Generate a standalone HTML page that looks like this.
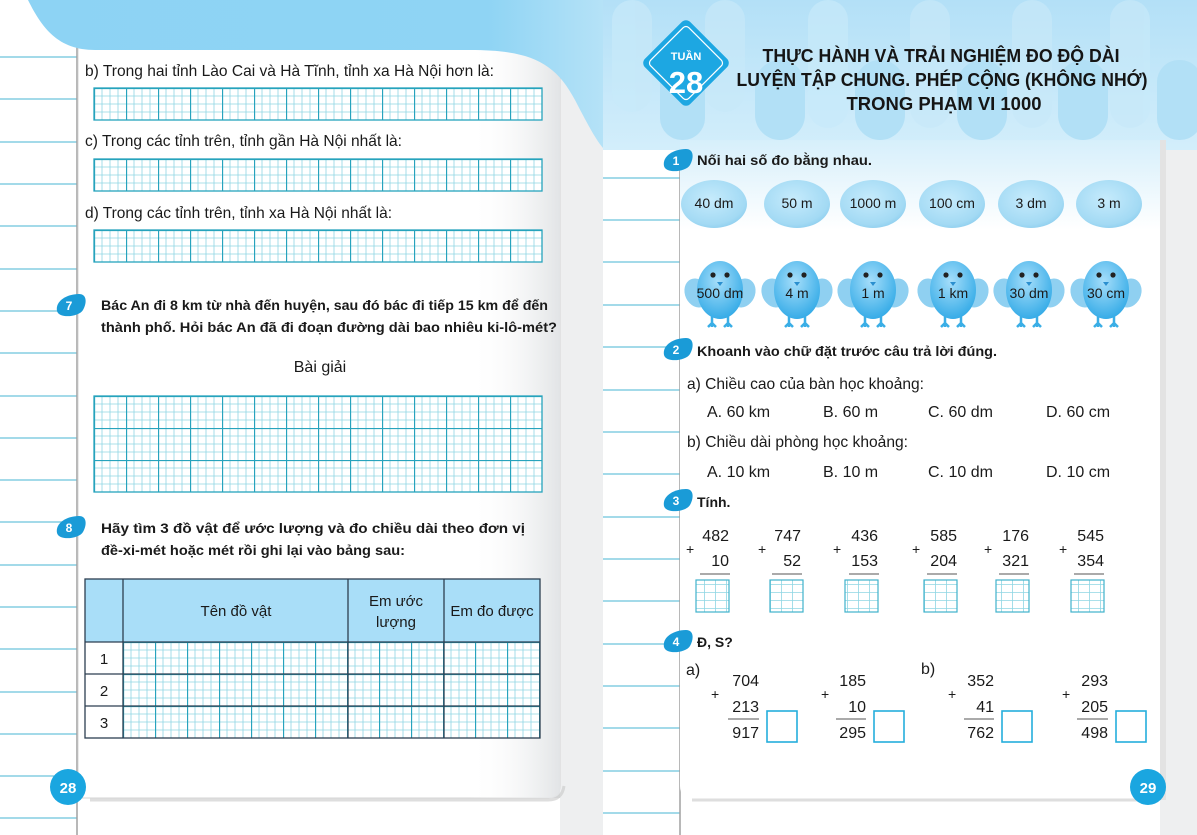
<!DOCTYPE html>
<html><head><meta charset="utf-8">
<style>
html,body{margin:0;padding:0;background:#fff;}
svg{display:block;font-family:"Liberation Sans","DejaVu Sans",sans-serif;}
</style></head><body>
<svg width="1197" height="835" viewBox="0 0 1197 835" xmlns="http://www.w3.org/2000/svg">
<defs>
<pattern id="g" width="32" height="32" patternUnits="userSpaceOnUse">
<rect width="32" height="32" fill="#fff"/>
<path d="M8 0V32M16 0V32M24 0V32M0 8H32M0 16H32M0 24H32" stroke="#8fd6e4" stroke-width="0.8"/>
<path d="M0.5 0V32M0 0.5H32" stroke="#27a3bd" stroke-width="1.3"/>
</pattern>
<pattern id="sg" width="11" height="8" patternUnits="userSpaceOnUse">
<rect width="11" height="8" fill="#fff"/>
<path d="M0.5 0V8M0 0.5H11" stroke="#8fd6e4" stroke-width="0.8"/>
</pattern>
<linearGradient id="fold" x1="0" x2="1">
<stop offset="0" stop-color="#fff" stop-opacity="0"/><stop offset="1" stop-color="#e2e4e6"/>
</linearGradient>
<linearGradient id="blob" x1="0" x2="1">
<stop offset="0" stop-color="#8dd3f4"/><stop offset="0.8" stop-color="#8fd4f4"/><stop offset="1" stop-color="#b5e2f7"/>
</linearGradient>
<linearGradient id="awn" x1="0" y1="0" x2="0" y2="1">
<stop offset="0" stop-color="#b3e0f7"/><stop offset="1" stop-color="#d3eefb"/>
</linearGradient>
<linearGradient id="below" x1="0" y1="0" x2="0" y2="1">
<stop offset="0" stop-color="#d6effb"/><stop offset="1" stop-color="#fff"/>
</linearGradient>
<radialGradient id="chick" cx="0.45" cy="0.35" r="0.7">
<stop offset="0" stop-color="#a6defa"/><stop offset="1" stop-color="#2ea8e6"/>
</radialGradient>
<radialGradient id="egg" cx="0.45" cy="0.4" r="0.65">
<stop offset="0" stop-color="#c6ebfc"/><stop offset="0.8" stop-color="#a3daf4"/><stop offset="1" stop-color="#8ccdee"/>
</radialGradient>
<g id="chk">
<ellipse cx="-23" cy="3" rx="12" ry="15" fill="#8fd0f1" transform="rotate(-25 -23 3)"/>
<ellipse cx="23" cy="3" rx="12" ry="15" fill="#8fd0f1" transform="rotate(25 23 3)"/>
<path d="M-8 24V37M8 24V37M-12 37L-8 33L-4 37M4 37L8 33L12 37" stroke="#3aaee6" stroke-width="2.5" fill="none"/>
<ellipse cx="0" cy="0" rx="23" ry="29" fill="url(#chick)"/>
<circle cx="-7" cy="-15" r="2.6" fill="#222"/><circle cx="7" cy="-15" r="2.6" fill="#222"/>
<path d="M-3 -8L3 -8L0 -4Z" fill="#2b8fcf"/>
</g>
<g id="badge"><path d="M-14 6C-16 -4 -4 -11 8 -11C16 -11 16 -2 12 5C8 12 -12 14 -14 6Z" fill="#1a9bd7"/></g>
</defs>

<rect width="1197" height="835" fill="#fff"/>
<rect x="560" y="0" width="43" height="835" fill="#eeeff0"/>
<rect x="1160" y="0" width="37" height="835" fill="#eeeff0"/>
<g stroke="#6cc3dc" stroke-width="1.3">
<path d="M0 57H77M0 99H77M0 142H77M0 184H77M0 226H77M0 269H77M0 311H77M0 353H77M0 396H77M0 438H77M0 480H77M0 522H77M0 565H77M0 607H77M0 649H77M0 692H77M0 734H77M0 776H77M0 818H77"/>
<path d="M603 178H680M603 220H680M603 262H680M603 305H680M603 347H680M603 390H680M603 432H680M603 474H680M603 517H680M603 559H680M603 601H680M603 644H680M603 686H680M603 728H680M603 771H680M603 813H680"/>
</g>
<path d="M77 0V835M680 0V835" stroke="#a0a0a0" stroke-width="1.5"/>

<path d="M78 40H548Q560 40 560 52V786Q560 798 548 798H78Z" fill="#fff" stroke="#d6d6d6" stroke-width="1"/>
<rect x="470" y="40" width="90" height="758" fill="url(#fold)"/>
<path d="M90 800H548Q562 800 564 786" stroke="#c8c8c8" stroke-width="3" fill="none" opacity="0.6"/>
<path d="M28 0C42 28 58 50 95 50L470 50C530 50 555 62 575 100C588 125 596 140 603 148L603 0Z" fill="url(#blob)"/>

<rect x="603" y="0" width="594" height="150" fill="url(#awn)"/>
<g fill="#c8e9f9" opacity="0.7">
<rect x="612" y="0" width="40" height="112" rx="20"/><rect x="705" y="0" width="40" height="112" rx="20"/><rect x="808" y="0" width="40" height="128" rx="20"/><rect x="910" y="0" width="40" height="128" rx="20"/><rect x="1012" y="0" width="40" height="128" rx="20"/><rect x="1110" y="0" width="40" height="128" rx="20"/>
</g>
<g fill="#b2e0f6">
<rect x="660" y="60" width="45" height="80" rx="22"/><rect x="755" y="60" width="50" height="80" rx="25"/><rect x="855" y="60" width="50" height="80" rx="25"/><rect x="957" y="60" width="50" height="80" rx="25"/><rect x="1058" y="60" width="50" height="80" rx="25"/><rect x="1157" y="60" width="45" height="80" rx="22"/>
</g>
<path d="M680 140H1160V786Q1160 798 1148 798H692Q680 798 680 786Z" fill="#fff"/>
<rect x="680" y="140" width="480" height="90" fill="url(#below)"/>
<path d="M692 800H1148Q1162 800 1162 786" stroke="#c8c8c8" stroke-width="3" fill="none" opacity="0.6"/>
<rect x="1160" y="140" width="6" height="660" fill="#e3e3e3"/>

<rect x="654" y="31" width="64" height="64" rx="6" fill="#1da7e2" transform="rotate(45 686 63)"/>
<rect x="659" y="36" width="54" height="54" rx="4" fill="none" stroke="#fff" stroke-width="1.2" transform="rotate(45 686 63)"/>
<text x="686" y="60" fill="#fff" font-size="11" font-weight="bold" text-anchor="middle">TUẦN</text>
<text x="686" y="93" fill="#fff" font-size="31" font-weight="bold" text-anchor="middle">28</text>
<g font-size="18" font-weight="bold" fill="#151515" text-anchor="middle">
<text x="941" y="62" textLength="357" lengthAdjust="spacingAndGlyphs">THỰC HÀNH VÀ TRẢI NGHIỆM ĐO ĐỘ DÀI</text>
<text x="942" y="86" textLength="411" lengthAdjust="spacingAndGlyphs">LUYỆN TẬP CHUNG. PHÉP CỘNG (KHÔNG NHỚ)</text>
<text x="944" y="110" textLength="195" lengthAdjust="spacingAndGlyphs">TRONG PHẠM VI 1000</text>
</g>

<g font-size="16" fill="#1a1a1a">
<text x="85" y="76" textLength="409" lengthAdjust="spacingAndGlyphs">b) Trong hai tỉnh Lào Cai và Hà Tĩnh, tỉnh xa Hà Nội hơn là:</text>
<text x="85" y="146" textLength="317" lengthAdjust="spacingAndGlyphs">c) Trong các tỉnh trên, tỉnh gần Hà Nội nhất là:</text>
<text x="85" y="218" textLength="307" lengthAdjust="spacingAndGlyphs">d) Trong các tỉnh trên, tỉnh xa Hà Nội nhất là:</text>
<text x="320" y="372" text-anchor="middle">Bài giải</text>
</g>
<g transform="translate(94,88)"><rect width="448" height="32" fill="url(#g)" stroke="#27a3bd" stroke-width="1.3"/></g>
<g transform="translate(94,159)"><rect width="448" height="32" fill="url(#g)" stroke="#27a3bd" stroke-width="1.3"/></g>
<g transform="translate(94,230)"><rect width="448" height="32" fill="url(#g)" stroke="#27a3bd" stroke-width="1.3"/></g>
<g transform="translate(94,396)"><rect width="448" height="96" fill="url(#g)" stroke="#27a3bd" stroke-width="1.3"/></g>

<use href="#badge" x="71" y="305"/><text x="69" y="310" fill="#fff" font-size="12" font-weight="bold" text-anchor="middle">7</text>
<g font-size="14" font-weight="bold" fill="#1a1a1a">
<text x="101" y="310" textLength="447" lengthAdjust="spacingAndGlyphs">Bác An đi 8 km từ nhà đến huyện, sau đó bác đi tiếp 15 km để đến</text>
<text x="101" y="332" textLength="456" lengthAdjust="spacingAndGlyphs">thành phố. Hỏi bác An đã đi đoạn đường dài bao nhiêu ki-lô-mét?</text>
<text x="101" y="533" textLength="424" lengthAdjust="spacingAndGlyphs">Hãy tìm 3 đồ vật để ước lượng và đo chiều dài theo đơn vị</text>
<text x="101" y="555" textLength="304" lengthAdjust="spacingAndGlyphs">đề-xi-mét hoặc mét rồi ghi lại vào bảng sau:</text>
</g>
<use href="#badge" x="71" y="527"/><text x="69" y="532" fill="#fff" font-size="12" font-weight="bold" text-anchor="middle">8</text>

<rect x="85" y="579" width="455" height="63" fill="#a9def8"/>
<g transform="translate(123,642)"><rect width="417" height="96" fill="url(#g)"/></g>
<g stroke="#2c3e50" stroke-width="1.3" fill="none">
<rect x="85" y="579" width="455" height="159"/>
<path d="M123 579V738M348 579V738M444 579V738M85 642H540M85 674H540M85 706H540"/>
</g>
<g font-size="15" fill="#1a1a1a" text-anchor="middle">
<text x="236" y="616">Tên đồ vật</text>
<text x="396" y="606">Em ước</text><text x="396" y="627">lượng</text>
<text x="492" y="616">Em đo được</text>
<text x="104" y="664">1</text><text x="104" y="696">2</text><text x="104" y="728">3</text>
</g>

<circle cx="68" cy="787" r="18" fill="#1aa6e0"/><text x="68" y="793" fill="#fff" font-size="15" font-weight="bold" text-anchor="middle">28</text>
<circle cx="1148" cy="787" r="18" fill="#1aa6e0"/><text x="1148" y="793" fill="#fff" font-size="15" font-weight="bold" text-anchor="middle">29</text>

<use href="#badge" x="678" y="160"/><text x="676" y="165" fill="#fff" font-size="12" font-weight="bold" text-anchor="middle">1</text>
<g font-size="14" font-weight="bold" fill="#1a1a1a">
<text x="697" y="165" textLength="175" lengthAdjust="spacingAndGlyphs">Nối hai số đo bằng nhau.</text>
<text x="697" y="356" textLength="300" lengthAdjust="spacingAndGlyphs">Khoanh vào chữ đặt trước câu trả lời đúng.</text>
<text x="697" y="507">Tính.</text>
<text x="697" y="647">Đ, S?</text>
</g>
<g>
<ellipse cx="714" cy="204" rx="33" ry="24" fill="url(#egg)"/>
<ellipse cx="797" cy="204" rx="33" ry="24" fill="url(#egg)"/>
<ellipse cx="873" cy="204" rx="33" ry="24" fill="url(#egg)"/>
<ellipse cx="952" cy="204" rx="33" ry="24" fill="url(#egg)"/>
<ellipse cx="1031" cy="204" rx="33" ry="24" fill="url(#egg)"/>
<ellipse cx="1109" cy="204" rx="33" ry="24" fill="url(#egg)"/>
</g>
<g font-size="14" fill="#1a1a1a" text-anchor="middle">
<text x="714" y="208">40 dm</text><text x="797" y="208">50 m</text><text x="873" y="208">1000 m</text><text x="952" y="208">100 cm</text><text x="1031" y="208">3 dm</text><text x="1109" y="208">3 m</text>
</g>
<use href="#chk" x="720" y="290"/><use href="#chk" x="797" y="290"/><use href="#chk" x="873" y="290"/><use href="#chk" x="953" y="290"/><use href="#chk" x="1029" y="290"/><use href="#chk" x="1106" y="290"/>
<g font-size="14" fill="#1a1a1a" text-anchor="middle">
<text x="720" y="298">500 dm</text><text x="797" y="298">4 m</text><text x="873" y="298">1 m</text><text x="953" y="298">1 km</text><text x="1029" y="298">30 dm</text><text x="1106" y="298">30 cm</text>
</g>

<use href="#badge" x="678" y="349"/><text x="676" y="354" fill="#fff" font-size="12" font-weight="bold" text-anchor="middle">2</text>
<g font-size="16" fill="#1a1a1a">
<text x="687" y="389" textLength="237" lengthAdjust="spacingAndGlyphs">a) Chiều cao của bàn học khoảng:</text>
<text x="707" y="417">A. 60 km</text><text x="823" y="417">B. 60 m</text><text x="928" y="417">C. 60 dm</text><text x="1046" y="417">D. 60 cm</text>
<text x="687" y="447" textLength="221" lengthAdjust="spacingAndGlyphs">b) Chiều dài phòng học khoảng:</text>
<text x="707" y="477">A. 10 km</text><text x="823" y="477">B. 10 m</text><text x="928" y="477">C. 10 dm</text><text x="1046" y="477">D. 10 cm</text>
</g>

<use href="#badge" x="678" y="500"/><text x="676" y="505" fill="#fff" font-size="12" font-weight="bold" text-anchor="middle">3</text>
<g font-size="16" fill="#1a1a1a" text-anchor="end">
<text x="729" y="541">482</text><text x="729" y="566">10</text>
<text x="801" y="541">747</text><text x="801" y="566">52</text>
<text x="878" y="541">436</text><text x="878" y="566">153</text>
<text x="957" y="541">585</text><text x="957" y="566">204</text>
<text x="1029" y="541">176</text><text x="1029" y="566">321</text>
<text x="1104" y="541">545</text><text x="1104" y="566">354</text>
</g>
<g font-size="14" fill="#1a1a1a"><text x="686" y="554">+</text><text x="758" y="554">+</text><text x="833" y="554">+</text><text x="912" y="554">+</text><text x="984" y="554">+</text><text x="1059" y="554">+</text></g>
<g stroke="#555" stroke-width="1"><path d="M700 574H730M772 574H802M849 574H879M927 574H957M999 574H1029M1074 574H1104"/></g>
<g stroke="#3fb2cb" stroke-width="1.2">
<rect x="696" y="580" width="33" height="32" fill="url(#sg)"/>
<rect x="770" y="580" width="33" height="32" fill="url(#sg)"/>
<rect x="845" y="580" width="33" height="32" fill="url(#sg)"/>
<rect x="924" y="580" width="33" height="32" fill="url(#sg)"/>
<rect x="996" y="580" width="33" height="32" fill="url(#sg)"/>
<rect x="1071" y="580" width="33" height="32" fill="url(#sg)"/>
</g>

<use href="#badge" x="678" y="641"/><text x="676" y="646" fill="#fff" font-size="12" font-weight="bold" text-anchor="middle">4</text>
<g font-size="16" fill="#1a1a1a">
<text x="686" y="675">a)</text><text x="921" y="674">b)</text>
</g>
<g font-size="16" fill="#1a1a1a" text-anchor="end">
<text x="759" y="686">704</text><text x="759" y="712">213</text><text x="759" y="738">917</text>
<text x="866" y="686">185</text><text x="866" y="712">10</text><text x="866" y="738">295</text>
<text x="994" y="686">352</text><text x="994" y="712">41</text><text x="994" y="738">762</text>
<text x="1108" y="686">293</text><text x="1108" y="712">205</text><text x="1108" y="738">498</text>
</g>
<g font-size="14" fill="#1a1a1a"><text x="711" y="699">+</text><text x="821" y="699">+</text><text x="948" y="699">+</text><text x="1062" y="699">+</text></g>
<g stroke="#555" stroke-width="1"><path d="M728 719H759M836 719H866M964 719H994M1077 719H1108"/></g>
<g fill="#fff" stroke="#25aedc" stroke-width="1.6">
<rect x="767" y="711" width="30" height="31"/><rect x="874" y="711" width="30" height="31"/><rect x="1002" y="711" width="30" height="31"/><rect x="1116" y="711" width="30" height="31"/>
</g>
</svg>
</body></html>
